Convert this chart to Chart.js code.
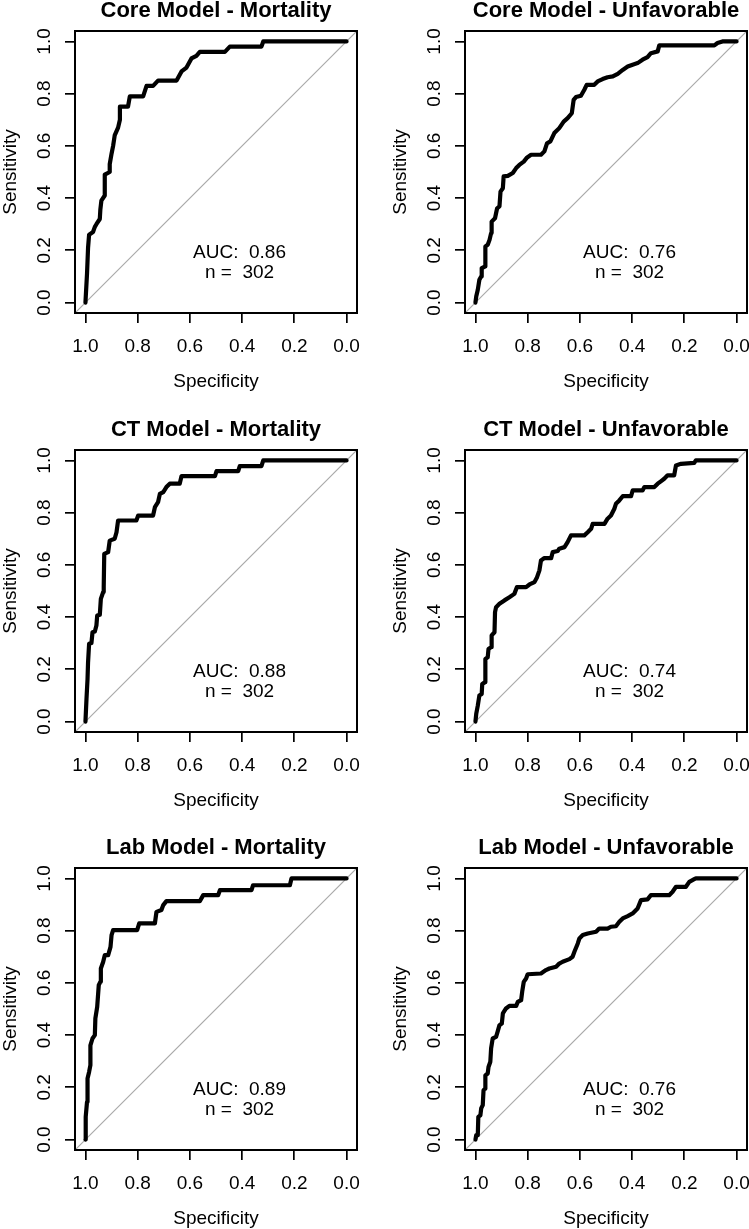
<!DOCTYPE html>
<html><head><meta charset="utf-8">
<script src="https://cdn.jsdelivr.net/npm/chart.js@4/dist/chart.umd.min.js"></script>
<style>
html,body{margin:0;padding:0;background:#fff;overflow:hidden;width:749px;height:1229px;position:relative;}
canvas{position:absolute;}
</style></head><body>
<script>
// ---------- data ----------
const tickValues = [0.0, 0.2, 0.4, 0.6, 0.8, 1.0];
const panelTitles = ['Core Model - Mortality', 'Core Model - Unfavorable', 'CT Model - Mortality', 'CT Model - Unfavorable', 'Lab Model - Mortality', 'Lab Model - Unfavorable'];
const aucValues = ['0.86', '0.76', '0.88', '0.74', '0.89', '0.76'];
const nValues = ['302', '302', '302', '302', '302', '302'];
const xAxisLabel = 'Specificity';
const yAxisLabel = 'Sensitivity';

const coreMortSpec = [1.000,0.994,0.990,0.986,0.971,0.964,0.958,0.945,0.943,0.939,0.926,0.926,0.907,0.907,0.900,0.894,0.888,0.875,0.868,0.868,0.837,0.830,0.779,0.766,0.741,0.722,0.651,0.632,0.613,0.594,0.575,0.562,0.466,0.447,0.326,0.319,0.000];
const coreMortSens = [0.000,0.110,0.210,0.260,0.270,0.290,0.300,0.320,0.355,0.390,0.410,0.490,0.500,0.530,0.570,0.600,0.640,0.670,0.700,0.750,0.750,0.790,0.790,0.830,0.830,0.850,0.850,0.885,0.900,0.935,0.945,0.960,0.960,0.980,0.980,1.000,1.000];

const coreUnfavSpec = [1.000,0.997,0.991,0.985,0.978,0.976,0.963,0.962,0.953,0.946,0.940,0.938,0.925,0.917,0.908,0.904,0.895,0.892,0.876,0.857,0.844,0.832,0.815,0.802,0.787,0.749,0.736,0.726,0.713,0.698,0.679,0.662,0.647,0.631,0.624,0.615,0.596,0.583,0.574,0.545,0.532,0.513,0.494,0.474,0.455,0.436,0.417,0.398,0.379,0.360,0.341,0.328,0.302,0.296,0.085,0.073,0.054,0.000];
const coreUnfavSens = [0.000,0.023,0.049,0.087,0.100,0.132,0.138,0.215,0.221,0.240,0.266,0.310,0.323,0.361,0.368,0.425,0.438,0.483,0.485,0.496,0.515,0.527,0.540,0.556,0.566,0.566,0.579,0.610,0.617,0.649,0.668,0.693,0.706,0.725,0.776,0.787,0.792,0.815,0.834,0.834,0.847,0.856,0.863,0.866,0.876,0.891,0.904,0.911,0.917,0.930,0.940,0.955,0.962,0.985,0.985,0.994,1.000,1.000];

const ctMortSpec = [1.000,0.996,0.992,0.990,0.986,0.977,0.973,0.964,0.958,0.955,0.945,0.941,0.932,0.930,0.928,0.913,0.907,0.888,0.881,0.875,0.805,0.798,0.741,0.734,0.722,0.715,0.702,0.690,0.677,0.639,0.632,0.504,0.498,0.415,0.409,0.326,0.319,0.000];
const ctMortSens = [0.000,0.087,0.163,0.227,0.298,0.301,0.342,0.345,0.368,0.406,0.409,0.470,0.496,0.515,0.642,0.649,0.693,0.700,0.725,0.770,0.770,0.789,0.789,0.821,0.840,0.872,0.879,0.898,0.911,0.911,0.940,0.940,0.959,0.959,0.978,0.978,1.000,1.000];

const ctUnfavSpec = [1.000,0.997,0.991,0.985,0.976,0.974,0.963,0.962,0.953,0.950,0.940,0.938,0.927,0.925,0.921,0.908,0.889,0.870,0.851,0.841,0.806,0.793,0.774,0.764,0.755,0.749,0.736,0.710,0.704,0.685,0.679,0.659,0.647,0.634,0.583,0.570,0.557,0.551,0.506,0.494,0.481,0.468,0.462,0.449,0.436,0.404,0.398,0.360,0.353,0.315,0.302,0.290,0.277,0.264,0.239,0.232,0.213,0.162,0.156,0.000];
const ctUnfavSens = [0.000,0.029,0.061,0.100,0.106,0.144,0.151,0.240,0.246,0.278,0.285,0.330,0.342,0.419,0.438,0.451,0.464,0.476,0.489,0.515,0.515,0.525,0.534,0.553,0.579,0.617,0.626,0.626,0.649,0.653,0.662,0.668,0.687,0.713,0.713,0.725,0.738,0.757,0.757,0.777,0.789,0.815,0.834,0.847,0.863,0.863,0.885,0.885,0.898,0.898,0.911,0.920,0.930,0.943,0.943,0.981,0.987,0.991,1.000,1.000];

const labMortSpec = [1.000,0.999,0.994,0.992,0.986,0.981,0.981,0.973,0.964,0.962,0.955,0.949,0.943,0.941,0.932,0.926,0.913,0.904,0.900,0.894,0.802,0.794,0.734,0.728,0.709,0.702,0.690,0.562,0.549,0.492,0.485,0.364,0.358,0.217,0.211,0.000];
const labMortSens = [0.000,0.087,0.144,0.234,0.259,0.285,0.361,0.387,0.400,0.464,0.508,0.591,0.604,0.655,0.681,0.706,0.706,0.738,0.783,0.802,0.802,0.828,0.828,0.872,0.879,0.898,0.913,0.913,0.936,0.936,0.955,0.955,0.974,0.974,1.000,1.000];

const labUnfavSpec = [1.000,0.997,0.991,0.989,0.981,0.978,0.972,0.969,0.963,0.962,0.953,0.950,0.943,0.940,0.934,0.921,0.915,0.908,0.899,0.895,0.883,0.870,0.844,0.838,0.825,0.821,0.815,0.806,0.800,0.749,0.730,0.717,0.691,0.679,0.666,0.640,0.628,0.621,0.608,0.602,0.589,0.570,0.538,0.526,0.494,0.481,0.462,0.449,0.436,0.417,0.398,0.379,0.366,0.341,0.328,0.258,0.245,0.232,0.194,0.181,0.162,0.156,0.000];
const labUnfavSens = [0.000,0.017,0.017,0.087,0.093,0.119,0.132,0.189,0.195,0.246,0.253,0.278,0.298,0.349,0.387,0.393,0.413,0.438,0.444,0.483,0.502,0.512,0.512,0.527,0.534,0.566,0.604,0.617,0.633,0.636,0.649,0.655,0.662,0.674,0.681,0.691,0.700,0.719,0.751,0.770,0.783,0.789,0.796,0.808,0.808,0.815,0.817,0.834,0.847,0.856,0.866,0.885,0.917,0.920,0.936,0.936,0.949,0.968,0.968,0.987,0.997,1.000,1.000];

const panelSpecs = [coreMortSpec, coreUnfavSpec, ctMortSpec, ctUnfavSpec, labMortSpec, labUnfavSpec];
const panelSens = [coreMortSens, coreUnfavSens, ctMortSens, ctUnfavSens, labMortSens, labUnfavSens];

// ---------- layout ----------
const FONT = '"Liberation Sans", Arial, Helvetica, sans-serif';
const BOX = 282, PADL = 75, PADT = 40, CW = 367, CH = 402;
const boxLefts = [75, 465];
const boxTops = [31, 450, 868];
const AXMIN = -0.04, AXMAX = 1.04;

const rDecor = {
  id: 'rDecor',
  afterDraw(chart, args, opts) {
    const ctx = chart.ctx, a = chart.chartArea;
    const xs = chart.scales.x, ys = chart.scales.y;
    const cx = (a.left + a.right) / 2, cy = (a.top + a.bottom) / 2;
    ctx.save();
    ctx.strokeStyle = '#000';
    ctx.lineWidth = 2;
    ctx.strokeRect(a.left, a.top, a.right - a.left, a.bottom - a.top);
    ctx.fillStyle = '#000';
    // y tick labels (rotated, R style)
    ctx.font = '19px ' + FONT;
    ctx.textAlign = 'center';
    ctx.textBaseline = 'alphabetic';
    tickValues.forEach(v => {
      ctx.save();
      ctx.translate(a.left - 25, ys.getPixelForValue(v));
      ctx.rotate(-Math.PI / 2);
      ctx.fillText(v.toFixed(1), 0, 0);
      ctx.restore();
    });
    // y axis title
    ctx.save();
    ctx.translate(a.left - 59.5, cy);
    ctx.rotate(-Math.PI / 2);
    ctx.fillText(yAxisLabel, 0, 0);
    ctx.restore();
    // x axis title
    ctx.fillText(xAxisLabel, cx, a.bottom + 73.5);
    // main title
    ctx.font = 'bold 22px ' + FONT;
    ctx.fillText(opts.title, cx, a.top - 14.5);
    // AUC text
    ctx.font = '19px ' + FONT;
    ctx.textBaseline = 'middle';
    const tx = xs.getPixelForValue(0.41);
    ctx.fillText('AUC:  ' + opts.auc, tx, ys.getPixelForValue(0.19));
    ctx.fillText('n =  ' + opts.n, tx, ys.getPixelForValue(0.114));
    ctx.restore();
  }
};

function fixedTicks(scale) {
  scale.ticks = tickValues.map(v => ({ value: v }));
}

function makePanel(i) {
  const col = i % 2, row = Math.floor(i / 2);
  const cv = document.createElement('canvas');
  cv.width = CW; cv.height = CH;
  cv.style.left = (boxLefts[col] - PADL) + 'px';
  cv.style.top = (boxTops[row] - PADT) + 'px';
  document.body.appendChild(cv);
  const spec = panelSpecs[i], sens = panelSens[i];
  const rocPts = spec.map((s, k) => ({ x: s, y: sens[k] }));
  new Chart(cv, {
    type: 'scatter',
    data: {
      datasets: [
        { data: rocPts, showLine: true, borderColor: '#000', borderWidth: 4.2, pointRadius: 0,
          borderJoinStyle: 'round', borderCapStyle: 'round', tension: 0, order: 0 },
        { data: [{ x: AXMAX, y: AXMIN }, { x: AXMIN, y: AXMAX }], showLine: true,
          borderColor: '#a9a9a9', borderWidth: 1.2, pointRadius: 0, order: 1 }
      ]
    },
    options: {
      responsive: false,
      devicePixelRatio: 1,
      animation: false,
      events: [],
      layout: { padding: { left: 0, top: PADT, right: CW - PADL - BOX, bottom: 0 } },
      plugins: {
        legend: { display: false },
        tooltip: { enabled: false },
        rDecor: { title: panelTitles[i], auc: aucValues[i], n: nValues[i] }
      },
      scales: {
        x: {
          type: 'linear', reverse: true, min: AXMIN, max: AXMAX,
          afterBuildTicks: fixedTicks,
          afterFit(s) { s.height = CH - PADT - BOX; s.paddingLeft = 0; s.paddingRight = 0; },
          border: { display: false },
          grid: { drawOnChartArea: false, drawTicks: true, tickLength: 10, color: '#000', lineWidth: 1.7 },
          ticks: { color: '#000', font: { family: FONT, size: 19 }, padding: 12, maxRotation: 0, minRotation: 0,
                   autoSkip: false, callback: v => Number(v).toFixed(1) }
        },
        y: {
          type: 'linear', min: AXMIN, max: AXMAX,
          afterBuildTicks: fixedTicks,
          afterFit(s) { s.width = PADL; s.paddingTop = 0; s.paddingBottom = 0; },
          border: { display: false },
          grid: { drawOnChartArea: false, drawTicks: true, tickLength: 10, color: '#000', lineWidth: 1.7 },
          ticks: { display: false }
        }
      }
    },
    plugins: [rDecor]
  });
}

for (let i = 0; i < 6; i++) makePanel(i);
</script>
</body></html>
